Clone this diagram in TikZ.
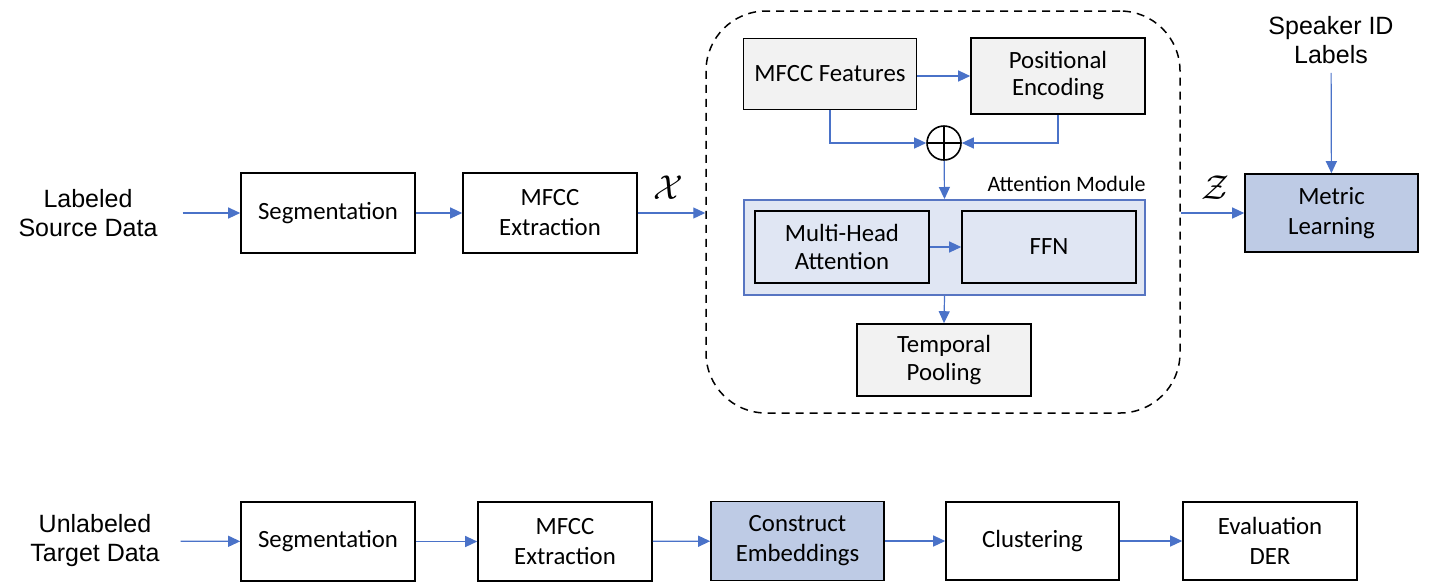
\documentclass[tikz,border=0pt]{standalone}
\usepackage{fontspec}
\setmainfont{Carlito}
\newfontfamily\arialfont{Liberation Sans}
\usepackage{tikz}
\usetikzlibrary{arrows.meta,positioning}
\definecolor{linkblue}{HTML}{4A72C8}
\definecolor{boxgray}{HTML}{F2F2F2}
\definecolor{modfill}{HTML}{E0E6F3}
\definecolor{modline}{HTML}{5775C2}
\definecolor{metricfill}{HTML}{BECBE5}

\begin{document}
\begin{tikzpicture}[x=0.5pt,y=-0.5pt,
    block/.style={draw,line width=0.8pt,minimum width=87pt,minimum height=40pt,inner sep=0pt,
      align=center,font=\fontsize{12.4}{15}\selectfont},
    flow/.style={draw=linkblue,line width=0.6pt,-{Triangle[length=6pt,width=5.5pt]}},
    plain/.style={align=center,font=\arialfont\fontsize{12.5}{14.5}\selectfont}]
    \useasboundingbox (0,0) rectangle (1433,585);
    % upper row
    \node[plain] (src) at (88,213) {Labeled\\Source Data};
    \node[block] (seg1) at (328,213) {Segmentation};
    \node[block] (mfcc1) at (550,213) {MFCC\\Extraction};
    \node[draw,dashed,dash pattern=on 4pt off 3pt,line width=0.75pt,rounded corners=30pt,
      minimum width=237pt,minimum height=201pt] (encoder) at (943,212) {};
    \node[block,fill=boxgray,minimum width=86.5pt,minimum height=35.5pt] (feat) at (830,74) {MFCC Features};
    \node[block,fill=boxgray,minimum height=38pt,font=\fontsize{12.4}{13.5}\selectfont] (posenc) at (1058,76) {Positional\\Encoding};
    \node[draw,circle,line width=0.8pt,minimum size=17pt,inner sep=0pt,
      path picture={\draw[line width=0.8pt] (path picture bounding box.north) -- (path picture bounding box.south)
        (path picture bounding box.west) -- (path picture bounding box.east);}] (sum) at (944,143) {};
    \node[draw=modline,fill=modfill,line width=1pt,minimum width=200.5pt,minimum height=47.5pt] (attn) at (944.5,247.5) {};
    \node[anchor=base east,inner sep=0pt,font=\fontsize{11}{13}\selectfont] (attnlab) at ([yshift=4pt]attn.north east) {Attention Module};
    \node[block,fill=modfill,minimum height=36pt,font=\fontsize{12.4}{14}\selectfont] (mha) at (842,247) {Multi-Head\\Attention};
    \node[block,fill=modfill,minimum height=36pt] (ffn) at (1049,247) {FFN};
    \node[block,fill=boxgray,minimum height=36pt,font=\fontsize{12.4}{14}\selectfont] (pool) at (944,360) {Temporal\\Pooling};
    \node[block,fill=metricfill,minimum width=86.5pt,minimum height=39pt] (metric) at (1331.5,213) {Metric\\Learning};
    \node[plain] (spk) at (1331,40) {Speaker ID\\Labels};
    \node[font=\fontsize{16}{18}\selectfont] (xlab) at (668,188) {$\mathcal{X}$};
    \node[font=\fontsize{16}{18}\selectfont] (zlab) at (1215,188) {$\mathcal{Z}$};
    \draw[flow,shorten <=9pt] (src) -- (seg1);
    \draw[flow] (seg1) -- (mfcc1);
    \draw[flow] (mfcc1) -- (encoder.west |- mfcc1);
    \draw[flow] (feat.east |- posenc) -- (posenc.west);
    \draw[flow] (feat.south) |- (sum.west);
    \draw[flow] (posenc.south) |- (sum.east);
    \draw[flow] (sum) -- (attn.north);
    \draw[flow] (mha) -- (ffn);
    \draw[flow] (attn.south) -- (pool.north);
    \draw[flow] (encoder.east |- metric) -- (metric.west);
    \draw[flow,shorten <=1pt] (spk) -- (metric);
    % lower row
    \node[plain] (tgt) at (95,541) {Unlabeled\\Target Data};
    \node[block,minimum height=39.5pt] (seg2) at (328,541.5) {Segmentation};
    \node[block,minimum height=39.5pt] (mfcc2) at (565,541.5) {MFCC\\Extraction};
    \node[block,fill=metricfill,minimum width=86.5pt,minimum height=39.5pt] (embed) at (797.5,541) {Construct\\Embeddings};
    \node[block,minimum width=86.5pt,minimum height=39pt] (clust) at (1032.5,541) {Clustering};
    \node[block,minimum height=39pt] (evalder) at (1270,541) {Evaluation\\DER};
    \draw[flow,shorten <=7pt] (tgt) -- (seg2);
    \draw[flow] (seg2) -- (mfcc2);
    \draw[flow] (mfcc2) -- (embed);
    \draw[flow] (embed) -- (clust);
    \draw[flow] (clust) -- (evalder);
\end{tikzpicture}
\end{document}
